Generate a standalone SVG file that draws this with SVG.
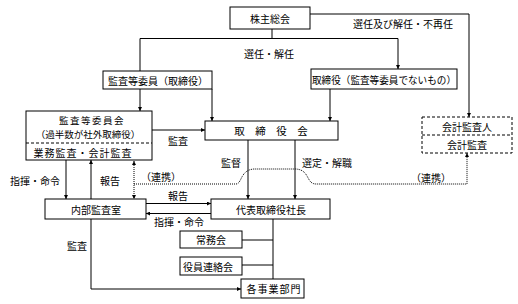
<svg xmlns="http://www.w3.org/2000/svg" width="518" height="304" viewBox="0 0 518 304">
<style>
text{font-family:"Noto Sans CJK JP","Noto Sans CJK SC",sans-serif;font-size:10px;fill:#000;text-anchor:middle;dominant-baseline:central}
.box{fill:#fff;stroke:#000;stroke-width:1}
.dbox{fill:#fff;stroke:#000;stroke-width:1;stroke-dasharray:3,2}
.ln{fill:none;stroke:#000;stroke-width:1}
.ar{fill:none;stroke:#000;stroke-width:1;marker-end:url(#ah)}
.dot{fill:none;stroke:#000;stroke-width:1;stroke-dasharray:1,1}
</style>
<defs>
<marker id="ah" viewBox="0 0 8 8" refX="8" refY="4" markerWidth="4" markerHeight="4" orient="auto" markerUnits="userSpaceOnUse">
<path d="M0,0 L8,4 L0,8 z" fill="#000"/>
</marker>
<marker id="ahs" viewBox="0 0 8 8" refX="0" refY="4" markerWidth="4" markerHeight="4" orient="auto" markerUnits="userSpaceOnUse">
<path d="M8,0 L0,4 L8,8 z" fill="#000"/>
</marker>
</defs>
<g id="connectors">
<path class="ln" d="M272,29 V38.5 M140,38.5 H398 M140,38.5 V71"/>
<path class="ar" d="M398,38.5 V69"/>
<path class="ar" d="M310,14 H469 V117"/>
<path class="ar" d="M140,89 V111"/>
<path class="ar" d="M212,89 V121"/>
<path class="ar" d="M330,89 V121"/>
<path class="ar" d="M152,130 H205"/>
<path class="ar" d="M248,140 V199"/>
<path class="ar" d="M295,140 V199"/>
<path class="ar" d="M66,160 V199"/>
<path class="ar" d="M91,199 V160"/>
<path class="dot" d="M134,161 V199" marker-start="url(#ahs)" marker-end="url(#ah)"/>
<path class="dot" d="M134,184 H236 C242,184 240,170 254,169 L296,169 C310,170 306,184 316,184 H467 V153" marker-end="url(#ah)"/>
<path class="ar" d="M146,203.5 H211"/>
<path class="ar" d="M211,213.5 H146"/>
<path class="ln" d="M273,219 V279 M242,240 H273 M242,265 H273"/>
<path class="ar" d="M91,219 V289 H241"/>
</g>
<g id="n-kabunushi"><rect class="box" x="230" y="7" width="80" height="22"/><text x="270" y="18">株主総会</text></g>
<g id="n-kansa-torishimari"><rect class="box" x="103" y="71" width="109" height="18"/><text x="158" y="80">監査等委員（取締役）</text></g>
<g id="n-torishimari-hi"><rect class="box" x="311" y="69" width="146" height="20"/><text x="384" y="79" textLength="144" lengthAdjust="spacingAndGlyphs">取締役（監査等委員でないもの）</text></g>
<g id="n-torishimarikai"><rect class="box" x="205" y="121" width="133" height="19"/><text x="271" y="130.5" style="font-size:10.5px">取　締　役　会</text></g>
<g id="n-kansaiinkai"><rect class="box" x="26" y="111" width="126" height="49"/><line class="ln" x1="26" y1="143" x2="152" y2="143" stroke-dasharray="3,2"/><text x="92" y="119.5" style="letter-spacing:1.5px;font-size:9.5px">監査等委員会</text><text x="88" y="133.5" style="font-size:9.5px">（過半数が社外取締役）</text><text x="83" y="152" style="letter-spacing:1px">業務監査・会計監査</text></g>
<g id="n-kaikei"><rect class="dbox" x="422" y="117" width="90" height="36"/><line class="ln" x1="422" y1="135" x2="512" y2="135" stroke-dasharray="3,2"/><text x="467" y="126">会計監査人</text><text x="467" y="144">会計監査</text></g>
<g id="n-naibu"><rect class="box" x="45" y="199" width="101" height="20"/><text x="96" y="209">内部監査室</text></g>
<g id="n-daihyo"><rect class="box" x="211" y="199" width="119" height="20"/><text x="271" y="209">代表取締役社長</text></g>
<g id="n-jomu"><rect class="box" x="180" y="231" width="62" height="17"/><text x="211" y="239.5">常務会</text></g>
<g id="n-yakuin"><rect class="box" x="180" y="257" width="62" height="18"/><text x="208" y="266">役員連絡会</text></g>
<g id="n-jigyo"><rect class="box" x="241" y="279" width="63" height="19"/><text x="274" y="288.5" style="letter-spacing:1px">各事業部門</text></g>
<g id="labels">
<text x="269" y="53">選任・解任</text>
<text x="403" y="23">選任及び解任・不再任</text>
<text x="178" y="140">監査</text>
<text x="231" y="162">監督</text>
<text x="327" y="162">選定・解職</text>
<text x="35" y="180">指揮・命令</text>
<text x="110" y="180">報告</text>
<text x="161" y="176">（連携）</text>
<text x="431" y="177">（連携）</text>
<text x="178" y="195">報告</text>
<text x="179" y="221">指揮・命令</text>
<text x="77" y="245">監査</text>
</g>
</svg>
